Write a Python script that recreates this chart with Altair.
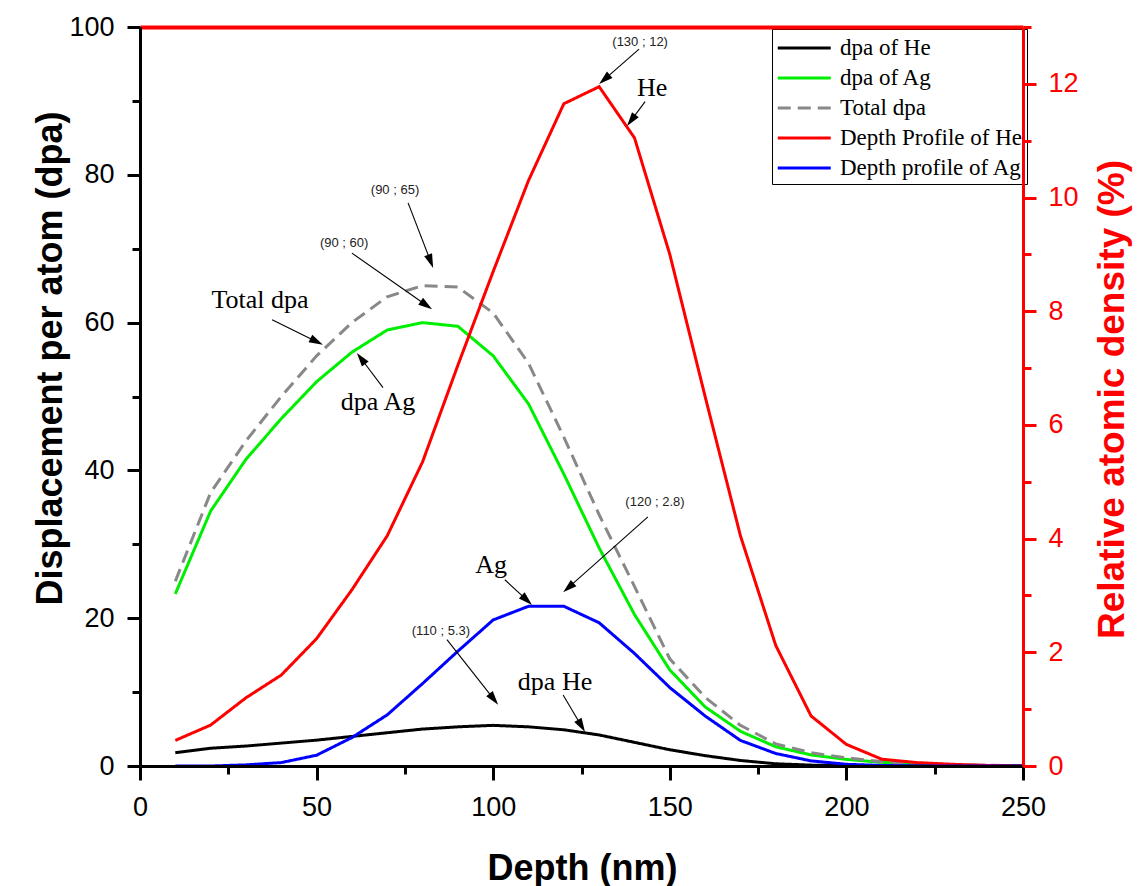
import math
import altair as alt
import pandas as pd

# ---------------- data ----------------
depth = list(range(10, 251, 10))
dpa_he = [1.8, 2.4, 2.7, 3.1, 3.5, 4.0, 4.5, 5.0, 5.3, 5.5, 5.3, 4.9, 4.2, 3.2, 2.2,
          1.4, 0.75, 0.3, 0.12, 0.05, 0.02, 0.0, 0.0, 0.0, 0.0]
dpa_ag = [23.3, 34.5, 41.5, 47.0, 52.0, 56.0, 59.0, 60.0, 59.5, 55.5, 49.0, 39.5, 29.5, 20.5, 13.0,
          8.0, 4.7, 2.6, 1.5, 0.9, 0.5, 0.3, 0.15, 0.05, 0.0]
dpa_total = [25.0, 37.0, 44.0, 50.0, 55.5, 60.0, 63.5, 65.0, 64.8, 61.3, 54.5, 44.5, 34.0, 24.3, 14.5,
             9.3, 5.5, 3.0, 1.8, 1.1, 0.6, 0.3, 0.2, 0.1, 0.0]
he_profile = [0.45, 0.72, 1.2, 1.6, 2.24, 3.1, 4.05, 5.35, 7.05, 8.7, 10.3, 11.65, 11.95, 11.05, 9.0,
              6.5, 4.05, 2.12, 0.88, 0.38, 0.12, 0.06, 0.03, 0.01, 0.0]
ag_profile = [0.0, 0.0, 0.02, 0.06, 0.19, 0.5, 0.9, 1.45, 2.02, 2.57, 2.81, 2.81, 2.52, 1.98, 1.38,
              0.88, 0.45, 0.22, 0.09, 0.03, 0.01, 0.0, 0.0, 0.0, 0.0]

series_names = ["dpa of He", "dpa of Ag", "Total dpa", "Depth Profile of He", "Depth profile of Ag"]
series_colors = ["#000000", "#00ee00", "#888888", "#ff0000", "#0000ff"]
series_dash = [[1, 0], [1, 0], [13, 7], [1, 0], [1, 0]]

# annotations (data units, left-axis scale)
ann_labels = ["(130 ; 12)", "He", "(90 ; 65)", "(90 ; 60)", "Total dpa", "dpa Ag",
              "(120 ; 2.8)", "Ag", "(110 ; 5.3)", "dpa He"]
ann_kind = ["small", "big", "small", "small", "big", "big", "small", "big", "small", "big"]
ann_tx = [141.6, 145.0, 72.2, 57.8, 34.0, 67.4, 145.8, 99.4, 85.2, 117.5]
ann_ty = [98.0, 91.7, 77.9, 70.8, 63.1, 49.3, 35.7, 27.2, 18.3, 11.4]
arr_x0 = [141.3, 143.0, 75.9, 60.0, 37.4, 68.8, 143.8, 103.3, 86.9, 119.8]
arr_y0 = [97.0, 89.9, 76.2, 69.4, 60.4, 51.2, 33.7, 25.2, 17.1, 9.6]
arr_x1 = [130.0, 137.9, 83.0, 82.7, 51.8, 61.4, 119.8, 111.0, 101.4, 126.0]
arr_y1 = [92.3, 86.6, 67.4, 61.8, 57.0, 55.9, 23.5, 21.8, 8.3, 4.6]

# ---------------- layout ----------------
W, H = 883, 739
sx, sy = W / 250.0, H / 100.0
R = 7  # arrow head half length (px)

left_rows = []
for name, vals in zip(series_names[:3], [dpa_he, dpa_ag, dpa_total]):
    for d, v in zip(depth, vals):
        left_rows.append({"series": name, "depth": d, "value": v})
right_rows = []
for name, vals in zip(series_names[3:], [he_profile, ag_profile]):
    for d, v in zip(depth, vals):
        right_rows.append({"series": name, "depth": d, "value": v})
left_df = pd.DataFrame(left_rows)
right_df = pd.DataFrame(right_rows)

ann_rows = []
for lab, kind, tx, ty, x0, y0, x1, y1 in zip(ann_labels, ann_kind, ann_tx, ann_ty,
                                             arr_x0, arr_y0, arr_x1, arr_y1):
    dx = (x1 - x0) * sx
    dy = -(y1 - y0) * sy
    L = math.hypot(dx, dy)
    ux, uy = dx / L, dy / L
    hx = x1 - ux * R / sx
    hy = y1 + uy * R / sy
    ang = math.degrees(math.atan2(ux, -uy)) % 360
    ann_rows.append({"label": lab, "kind": kind, "tx": tx, "ty": ty,
                     "x0": x0, "y0": y0, "hx": hx, "hy": hy, "ang": ang})
ann_df = pd.DataFrame(ann_rows)

SANS = "Liberation Sans"
SERIF = "Liberation Serif"

x_scale = alt.Scale(domain=[0, 250], nice=False, zero=False)
x_axis = alt.Axis(
    values=list(range(0, 251, 25)), title="Depth (nm)", orient="bottom",
    labelExpr="datum.value % 50 === 0 ? datum.label : ''",
    tickSize=14, tickWidth=3, tickColor="black", domainWidth=3, domainColor="black",
    tickDash={"condition": {"test": "datum.value % 50 !== 0", "value": [8, 30]}, "value": [14, 0]},
    labelFont=SANS, labelFontSize=27, labelColor="black", labelPadding=14,
    labelFlush=False, labelOverlap=False, grid=False,
    titleFont=SANS, titleFontSize=36, titleFontWeight="bold", titleColor="black",
    titleX=442, titleY=102, titleAlign="center", titleBaseline="middle", titleAngle=0,
    zindex=2,
)
x_top_axis = alt.Axis(
    orient="top", title=None, ticks=False, labels=False, grid=False,
    domainColor="red", domainWidth=4, zindex=2,
)
yl_scale = alt.Scale(domain=[0, 100], nice=False, zero=False)
yl_axis = alt.Axis(
    values=list(range(0, 101, 10)), title="Displacement per atom (dpa)", orient="left",
    labelExpr="datum.value % 20 === 0 ? datum.label : ''",
    tickSize=13, tickWidth=3, tickColor="black", domainWidth=3, domainColor="black",
    tickDash={"condition": {"test": "datum.value % 20 !== 0", "value": [8, 30]}, "value": [13, 0]},
    labelFont=SANS, labelFontSize=27, labelColor="black", labelPadding=13,
    labelFlush=False, labelOverlap=False, grid=False,
    titleFont=SANS, titleFontSize=36, titleFontWeight="bold", titleColor="black",
    titleX=-90, titleY=331, titleAlign="center", titleBaseline="middle", titleAngle=270,
    zindex=2,
)
yr_scale = alt.Scale(domain=[0, 13], nice=False, zero=False)
yr_axis = alt.Axis(
    values=list(range(0, 14)), title="Relative atomic density (%)", orient="right",
    labelExpr="datum.value % 2 === 0 ? datum.label : ''",
    tickSize=13, tickWidth=3, tickColor="red", domainWidth=3, domainColor="red",
    tickDash={"condition": {"test": "datum.value % 2 !== 0", "value": [8, 30]}, "value": [13, 0]},
    labelFont=SANS, labelFontSize=27, labelColor="red", labelPadding=12,
    labelFlush=False, labelOverlap=False, grid=False,
    titleFont=SANS, titleFontSize=37, titleFontWeight="bold", titleColor="red",
    titleX=89, titleY=372, titleAlign="center", titleBaseline="middle", titleAngle=270,
    zindex=2,
)

legend = alt.Legend(
    title=None, orient="none", legendX=632, legendY=2, direction="vertical",
    padding=4, strokeColor="black", fillColor="white",
    labelFont=SERIF, labelFontSize=23, labelColor="black", labelLimit=400,
    symbolType="M-1,0H3", symbolSize=702, symbolStrokeWidth=3, labelOffset=34, rowPadding=3,
)
color_enc = alt.Color("series:N", scale=alt.Scale(domain=series_names, range=series_colors),
                      legend=legend)
dash_enc = alt.StrokeDash("series:N", scale=alt.Scale(domain=series_names, range=series_dash),
                          legend=legend)


def line_layer(df, name, y_scale, y_axis, xa):
    if xa is None:
        xenc = alt.X("depth:Q", scale=x_scale, axis=None)
    else:
        xenc = alt.X("depth:Q", scale=x_scale, axis=xa)
    return alt.Chart(df).transform_filter(alt.datum.series == name).mark_line(
        strokeWidth=3, clip=True
    ).encode(
        x=xenc,
        y=alt.Y("value:Q", scale=y_scale, axis=y_axis),
        color=color_enc, strokeDash=dash_enc,
    )


left_group = alt.layer(
    line_layer(left_df, "dpa of Ag", yl_scale, yl_axis, x_axis),
    line_layer(left_df, "Total dpa", yl_scale, yl_axis, x_axis),
    line_layer(left_df, "dpa of He", yl_scale, yl_axis, x_axis),
)
right_group = alt.layer(
    line_layer(right_df, "Depth Profile of He", yr_scale, yr_axis, None),
    line_layer(right_df, "Depth profile of Ag", yr_scale, yr_axis, None),
)

ann_base = alt.Chart(ann_df)
ann_rules = ann_base.mark_rule(color="black", strokeWidth=1.1).encode(
    x=alt.X("x0:Q", scale=x_scale, axis=x_top_axis),
    y=alt.Y("y0:Q", scale=yl_scale, axis=None),
    x2="hx:Q", y2="hy:Q",
)
ann_heads = ann_base.mark_point(
    shape="M0,-1L0.6,1L-0.6,1Z", filled=True, size=196, color="black", opacity=1, strokeWidth=0
).encode(
    x=alt.X("hx:Q", scale=x_scale, axis=x_top_axis),
    y=alt.Y("hy:Q", scale=yl_scale, axis=None),
    angle=alt.Angle("ang:Q", scale=None),
)
ann_small = ann_base.transform_filter(alt.datum.kind == "small").mark_text(
    font=SANS, fontSize=13, color="#222222", align="center", baseline="middle"
).encode(
    x=alt.X("tx:Q", scale=x_scale, axis=x_top_axis),
    y=alt.Y("ty:Q", scale=yl_scale, axis=None),
    text="label:N",
)
ann_big = ann_base.transform_filter(alt.datum.kind == "big").mark_text(
    font=SERIF, fontSize=26, color="black", align="center", baseline="middle"
).encode(
    x=alt.X("tx:Q", scale=x_scale, axis=x_top_axis),
    y=alt.Y("ty:Q", scale=yl_scale, axis=None),
    text="label:N",
)
ann_group = alt.layer(ann_rules, ann_heads, ann_small, ann_big)

chart = alt.layer(left_group, right_group, ann_group).resolve_scale(
    y="independent", x="independent"
).properties(
    width=W, height=H,
    autosize=alt.AutoSizeParams(type="none"),
    padding={"left": 140, "top": 27, "right": 114, "bottom": 120},
    background="white",
).configure_view(
    stroke="transparent", strokeWidth=0
)

chart.save("out.html", embed_options={"renderer": "svg", "actions": False})
